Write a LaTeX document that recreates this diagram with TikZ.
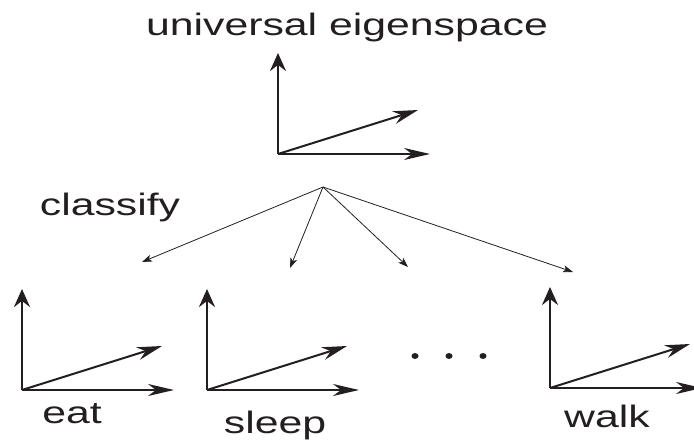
\documentclass[tikz,border=0pt]{standalone}
\usepackage{fontspec}
\setmainfont{Liberation Sans}
\newfontfamily\wideSans[FakeStretch=1.38]{Liberation Sans}
\usetikzlibrary{arrows.meta,positioning}
\definecolor{inkBlack}{RGB}{35,31,32}
\tikzset{
  upArrow/.style={draw=inkBlack,line width=2.6pt,-{Stealth[length=18pt,width=16pt,inset=6pt]}},
  rightArrow/.style={draw=inkBlack,line width=2pt,-{Stealth[length=26pt,width=12pt,inset=8pt]}},
  slantArrow/.style={draw=inkBlack,line width=2pt,-{Stealth[length=25pt,width=13pt,inset=8pt]}},
  fanArrow/.style={draw=inkBlack,line width=0.8pt,-{Stealth[length=10pt,width=7pt,inset=2.5pt]}},
  spaceLabel/.style={anchor=base,inner sep=0pt,text=inkBlack,font=\wideSans\fontsize{31}{31}\selectfont}
}
% one frame of three basis vectors, drawn from a named origin
\newcommand{\AxisFrame}[1]{%
  \draw[upArrow] (#1) -- ++(0,-101);
  \draw[rightArrow] (#1) -- ++(152,0);
  \draw[slantArrow] (#1) -- ++(140,-44);}

\begin{document}
\begin{tikzpicture}[x=1pt,y=-1pt]
\useasboundingbox (0,0) rectangle (694,442);

% frame origins
\coordinate (univ) at (278,154);
\coordinate (eatO) at (22,390);
\coordinate (sleepO) at (207,390);
\coordinate (walkO) at (550,388);

\AxisFrame{univ}
\AxisFrame{eatO}
\AxisFrame{sleepO}
\AxisFrame{walkO}

% labels
\node[spaceLabel] (univLabel) at (347,35) {universal eigenspace};
\node[spaceLabel] (classLabel) at (110,215) {classify};
\node[spaceLabel] (eatLabel) at (72,423) {eat};
\node[spaceLabel] (sleepLabel) at (275,433) {sleep};
\node[spaceLabel] (walkLabel) at (607,427) {walk};

% classification fan
\coordinate (hub) at (323,187);
\coordinate (toEat) at (142,262);
\coordinate (toSleep) at (290,268);
\coordinate (toNext) at (408,267);
\coordinate (toWalk) at (573,272);
\foreach \t in {toEat,toSleep,toNext,toWalk}
  \draw[fanArrow] (hub) -- (\t);

% ellipsis
\foreach \x in {415,449,483}
  \fill[inkBlack] (\x,356) ellipse (3.5 and 3);
\end{tikzpicture}
\end{document}
